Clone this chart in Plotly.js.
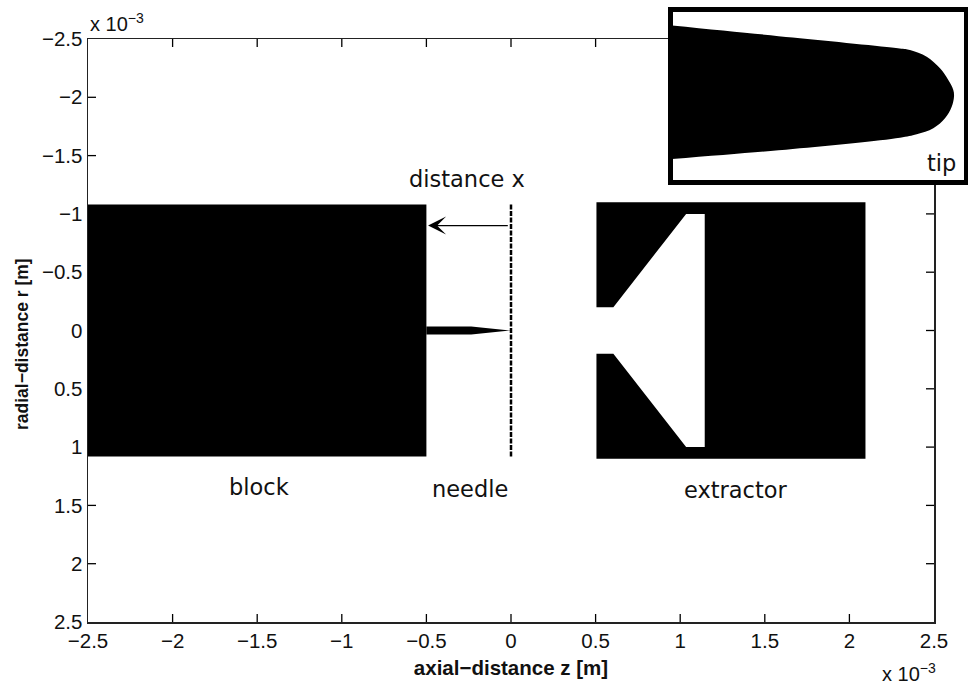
<!DOCTYPE html>
<html><head><meta charset="utf-8">
<script src="https://cdn.plot.ly/plotly-3.0.1.min.js"></script>
<style>html,body{margin:0;padding:0;background:#fff}#c{position:absolute;left:0;top:0;width:968px;height:685px}#inset{position:absolute;left:668px;top:7px;width:300px;height:178px;z-index:2}</style></head>
<body><div id="c"></div><div id="inset"></div>
<script>
// Main chart values, in units of 1e-3 m
const tickVals = [-2.5,-2,-1.5,-1,-0.5,0,0.5,1,1.5,2,2.5];
const tickText = ["\u22122.5","\u22122","\u22121.5","\u22121","\u22120.5","0","0.5","1","1.5","2","2.5"];
const blockZ = [-2.5,-0.5,-0.5,-2.5,-2.5];
const blockR = [-1.08,-1.08,1.08,1.08,-1.08];
const needleZ = [-0.5,-0.235,0,-0.235,-0.5,-0.5];
const needleR = [-0.034,-0.034,0,0.034,0.034,-0.034];
const extractorZ = [0.505,2.095,2.095,0.505,0.505,0.605,1.035,1.145,1.145,1.035,0.605,0.505,0.505];
const extractorR = [-1.1,-1.1,1.1,1.1,0.2,0.2,1.0,1.0,-1.0,-1.0,-0.2,-0.2,-1.1];
const dashZ = [0,0];
const dashR = [-1.08,1.09];
// Inset: needle tip outline (picture-based units)
const tipZ = [-20,120,227,237.3,254,267.3,275.6,280.6,281.3,279,272.3,260.6,244,227.3,120,-20];
const tipR = [-69,-55,-44,-42.5,-35.8,-24.2,-12.5,-2.5,4.2,14.2,25.8,35.8,41.8,45.2,56.5,68];

const W=968,H=685;
const IW=300,IH=178;
const px=(a,b)=>[a/W,b/W], py=(t,b)=>[1-b/H,1-t/H];
const L=88,R=934,T=39,B=622;
const font={family:'"Liberation Sans",Arial,sans-serif',size:20.5,color:'#111'};
const dj='"DejaVu Sans",sans-serif';
const poly=(x,y,shape)=>({x,y,type:'scatter',mode:'lines',fill:'toself',fillcolor:'#000',line:{color:'#000',width:0,shape:shape||'linear'},hoverinfo:'skip',showlegend:false});
// Tick marks on all four sides, placed through the axes from tickVals
const inner=tickVals.slice(1,-1);
const lenZ=8/((R-L)/5), lenR=8/((B-T)/5);
const tx=[],ty=[];
inner.forEach(v=>{
  tx.push(v,v,null,v,v,null); ty.push(2.5,2.5-lenR,null,-2.5,-2.5+lenR,null);
  tx.push(-2.5,-2.5+lenZ,null,2.5,2.5-lenZ,null); ty.push(v,v,null,v,v,null);
});
const data=[
 poly(blockZ,blockR),
 poly(needleZ,needleR),
 poly(extractorZ,extractorR),
 {x:dashZ,y:dashR,type:'scatter',mode:'lines',line:{color:'#000',width:2.5,dash:'5px,1.5px'},hoverinfo:'skip',showlegend:false},
 {x:tx,y:ty,type:'scatter',mode:'lines',line:{color:'#000',width:1.3},hoverinfo:'skip',showlegend:false,connectgaps:false}
];
const ann=(text,x,y,size)=>({text,x,y,xref:'paper',yref:'paper',showarrow:false,xanchor:'center',yanchor:'middle',font:{family:dj,size,color:'#111'}});
const axisBase={ticks:'',tickvals:tickVals,ticktext:tickText,
   showline:true,linecolor:'#222',linewidth:1.5,mirror:true,showgrid:false,zeroline:false,tickfont:font};
const layout={
 width:W,height:H,margin:{l:0,r:0,t:0,b:0},paper_bgcolor:'#fff',plot_bgcolor:'#fff',showlegend:false,font,
 xaxis:{...axisBase,domain:px(L,R),range:[-2.5,2.5],
   title:{text:'<b>axial\u2212distance z [m]</b>',font:{...font,size:20.5},standoff:9}},
 yaxis:{...axisBase,domain:py(T,B),range:[2.5,-2.5]},
 annotations:[
  ann('distance x',467/W,1-179/H,22.5),
  ann('block',259/W,1-487/H,22.5),
  ann('needle',470/W,1-489/H,22.5),
  ann('extractor',736/W,1-490/H,22.5),
  {text:'<b>radial\u2212distance r [m]</b>',x:22/W,y:1-344/H,xref:'paper',yref:'paper',showarrow:false,textangle:-90,xanchor:'center',yanchor:'middle',font:{...font,size:17.5}},
  {text:'x 10<sup>\u22123</sup>',x:88/W,y:1-23/H,xref:'paper',yref:'paper',showarrow:false,xanchor:'left',yanchor:'middle',font:{...font,size:20}},
  {text:'x 10<sup>\u22123</sup>',x:880/W,y:1-672/H,xref:'paper',yref:'paper',showarrow:false,xanchor:'left',yanchor:'middle',font:{...font,size:20}},
  {x:-0.49,y:-0.9,ax:-0.01,ay:-0.9,xref:'x',yref:'y',axref:'x',ayref:'y',text:'',showarrow:true,arrowhead:3,arrowsize:2.5,arrowwidth:1.2,arrowcolor:'#000'}
 ]
};
const insetAxis={showline:true,linecolor:'#000',linewidth:5,mirror:true,showticklabels:false,ticks:'',showgrid:false,zeroline:false};
const insetLayout={
 width:IW,height:IH,margin:{l:0,r:0,t:0,b:0},paper_bgcolor:'#fff',plot_bgcolor:'#fff',showlegend:false,
 xaxis:{...insetAxis,domain:[4.7/IW,296.3/IW],range:[0,291.6]},
 yaxis:{...insetAxis,domain:[5/IH,173/IH].map(v=>1-v).reverse(),range:[87.5,-80.5]},
 annotations:[ann('tip',273/IW,1-156/IH,22.5)]
};
Plotly.newPlot('c',data,layout,{displayModeBar:false,staticPlot:true});
Plotly.newPlot('inset',[poly(tipZ,tipR,'spline')],insetLayout,{displayModeBar:false,staticPlot:true});
</script></body></html>
